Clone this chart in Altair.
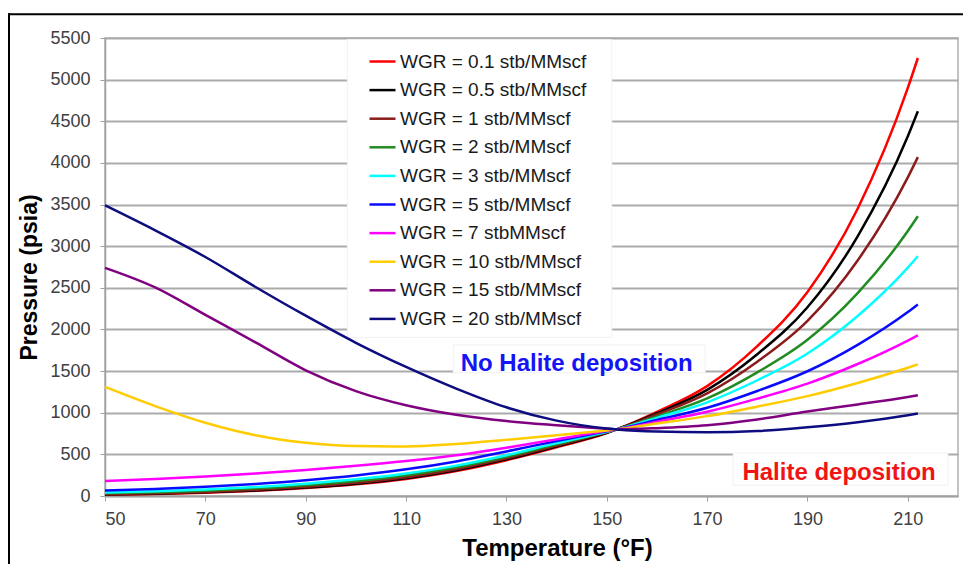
import altair as alt
import pandas as pd

# ---------------- data ----------------
temps = [50, 60, 70, 80, 90, 100, 110, 120, 130, 140, 150, 152, 160, 170, 180, 190, 200, 210, 212]

series_names = [
    "WGR = 0.1 stb/MMscf",
    "WGR = 0.5 stb/MMscf",
    "WGR = 1 stb/MMscf",
    "WGR = 2 stb/MMscf",
    "WGR = 3 stb/MMscf",
    "WGR = 5 stb/MMscf",
    "WGR = 7 stbMMscf",
    "WGR = 10 stb/MMscf",
    "WGR = 15 stb/MMscf",
    "WGR = 20 stb/MMscf",
]

p_wgr_01 = [15, 25, 40, 62, 95, 140, 205, 300, 430, 585, 755, 800, 1010, 1320, 1800, 2450, 3450, 4900, 5260]
p_wgr_05 = [17, 28, 44, 67, 101, 148, 214, 310, 440, 595, 760, 800, 994, 1275, 1703, 2266, 3118, 4320, 4620]
p_wgr_1 = [20, 32, 49, 74, 110, 158, 225, 322, 452, 605, 765, 800, 979, 1233, 1613, 2103, 2828, 3827, 4070]
p_wgr_2 = [32, 45, 64, 92, 130, 180, 250, 345, 472, 620, 768, 800, 956, 1172, 1485, 1876, 2436, 3182, 3360]
p_wgr_3 = [42, 57, 78, 108, 148, 200, 270, 365, 490, 635, 771, 800, 938, 1125, 1390, 1712, 2162, 2743, 2880]
p_wgr_5 = [65, 85, 110, 145, 190, 247, 320, 415, 535, 660, 777, 800, 912, 1059, 1261, 1498, 1815, 2209, 2300]
p_wgr_7 = [180, 205, 235, 270, 312, 362, 420, 490, 580, 680, 782, 800, 892, 1011, 1169, 1350, 1585, 1867, 1930]
p_wgr_10 = [1310, 1080, 880, 730, 640, 600, 595, 625, 675, 730, 788, 800, 870, 959, 1073, 1199, 1357, 1540, 1580]
p_wgr_15 = [2740, 2505, 2175, 1845, 1510, 1260, 1090, 975, 900, 850, 808, 800, 815, 850, 920, 1015, 1100, 1190, 1210]
p_wgr_20 = [3490, 3190, 2870, 2510, 2165, 1840, 1550, 1290, 1065, 905, 810, 800, 775, 765, 780, 825, 885, 970, 990]

series_values = [p_wgr_01, p_wgr_05, p_wgr_1, p_wgr_2, p_wgr_3, p_wgr_5, p_wgr_7, p_wgr_10, p_wgr_15, p_wgr_20]

series_colors = ["#FF0000", "#000000", "#8B1C1C", "#228B22", "#00FFFF",
                 "#0A0AFF", "#FF00FF", "#FFCC00", "#800080", "#0D0D80"]

x_ticks = [50, 70, 90, 110, 130, 150, 170, 190, 210]
y_ticks = [0, 500, 1000, 1500, 2000, 2500, 3000, 3500, 4000, 4500, 5000, 5500]

annot_text = ["No Halite deposition", "Halite deposition"]
annot_T = [144.0, 196.3]
annot_P = [1580, 280]
annot_color = ["#1414F5", "#F01414"]

# white boxes (legend box, annotation boxes) in data units
box_T0 = [98.3, 119.4, 175.2]
box_T1 = [151.0, 169.6, 218.0]
box_P0 = [5480, 1815, 515]
box_P1 = [1905, 1480, 130]

# ---------------- tables ----------------
rows = []
for name, vals in zip(series_names, series_values):
    for t, p in zip(temps, vals):
        rows.append({"T": t, "P": p, "series": name})
df = pd.DataFrame(rows)

df_annot = pd.DataFrame({"T": annot_T, "P": annot_P, "text": annot_text, "c": annot_color})
df_box = pd.DataFrame({"T0": box_T0, "T1": box_T1, "P0": box_P0, "P1": box_P1})

FONT = "Liberation Sans"

xscale = alt.Scale(domain=[50, 220], nice=False, zero=False)
yscale = alt.Scale(domain=[0, 5500], nice=False)

boxes = alt.Chart(df_box).mark_rect(fill="white", stroke="#F2F2F2", strokeWidth=1).encode(
    x=alt.X("T0:Q", scale=xscale),
    x2="T1:Q",
    y=alt.Y("P0:Q", scale=yscale),
    y2="P1:Q",
)

lines = alt.Chart(df).mark_line(strokeWidth=2.5, interpolate="monotone").encode(
    x=alt.X(
        "T:Q",
        scale=xscale,
        axis=alt.Axis(
            values=x_ticks,
            format="d",
            title="Temperature (°F)",
            grid=False,
            labelFontSize=18,
            labelFont=FONT,
            labelColor="#404040",
            labelPadding=9,
            tickSize=5,
            tickColor="#A0A0A0",
            domainColor="#A0A0A0",
            domainWidth=1.5,
            titleFont=FONT,
            titleFontSize=24,
            titleFontWeight="bold",
            titleColor="#000000",
            titleX=452,
            titleY=52,
            titleAlign="center",
            titleBaseline="middle",
        ),
    ),
    y=alt.Y(
        "P:Q",
        scale=yscale,
        axis=alt.Axis(
            values=y_ticks,
            format="d",
            title="Pressure (psia)",
            grid=True,
            gridColor="#ABABAB",
            gridWidth=1.8,
            labelFontSize=18,
            labelFont=FONT,
            labelColor="#404040",
            labelPadding=10,
            tickSize=5,
            tickColor="#A0A0A0",
            domainColor="#A0A0A0",
            domainWidth=1.5,
            titleFont=FONT,
            titleFontSize=23,
            titleFontWeight="bold",
            titleColor="#000000",
            titleX=-76,
            titleY=239,
            titleAngle=270,
            titleAlign="center",
            titleBaseline="middle",
        ),
    ),
    color=alt.Color(
        "series:N",
        scale=alt.Scale(domain=series_names, range=series_colors),
        sort=series_names,
        legend=alt.Legend(
            orient="none",
            legendX=263,
            legendY=9,
            title=None,
            symbolType="stroke",
            symbolSize=676,
            symbolStrokeWidth=2.5,
            labelFont=FONT,
            labelFontSize=19,
            labelColor="#1A1A1A",
            labelOffset=3,
            rowPadding=3.6,
            padding=0,
            labelLimit=400,
        ),
    ),
)

texts = alt.Chart(df_annot).mark_text(font=FONT, fontSize=24, fontWeight="bold").encode(
    x=alt.X("T:Q", scale=xscale),
    y=alt.Y("P:Q", scale=yscale),
    text="text:N",
    color=alt.Color("c:N", scale=None),
)

one = pd.DataFrame({"a": [0]})
frame_top = alt.Chart(one).mark_rule(color="black", strokeWidth=2).encode(
    x=alt.value(-97), x2=alt.value(880), y=alt.value(-23.7)
)
frame_left = alt.Chart(one).mark_rule(color="black", strokeWidth=2).encode(
    x=alt.value(-96), y=alt.value(-24.7), y2=alt.value(540)
)

chart = alt.layer(boxes, lines, texts, frame_top, frame_left).properties(
    width=853,
    height=458,
    autosize=alt.AutoSizeParams(type="none"),
    padding={"left": 97, "top": 30, "right": 5, "bottom": 68},
    background="white",
).configure_view(
    stroke="#B0B0B0", strokeWidth=1.5
)

chart.save("out.html", embed_options={"renderer": "svg", "actions": False})
